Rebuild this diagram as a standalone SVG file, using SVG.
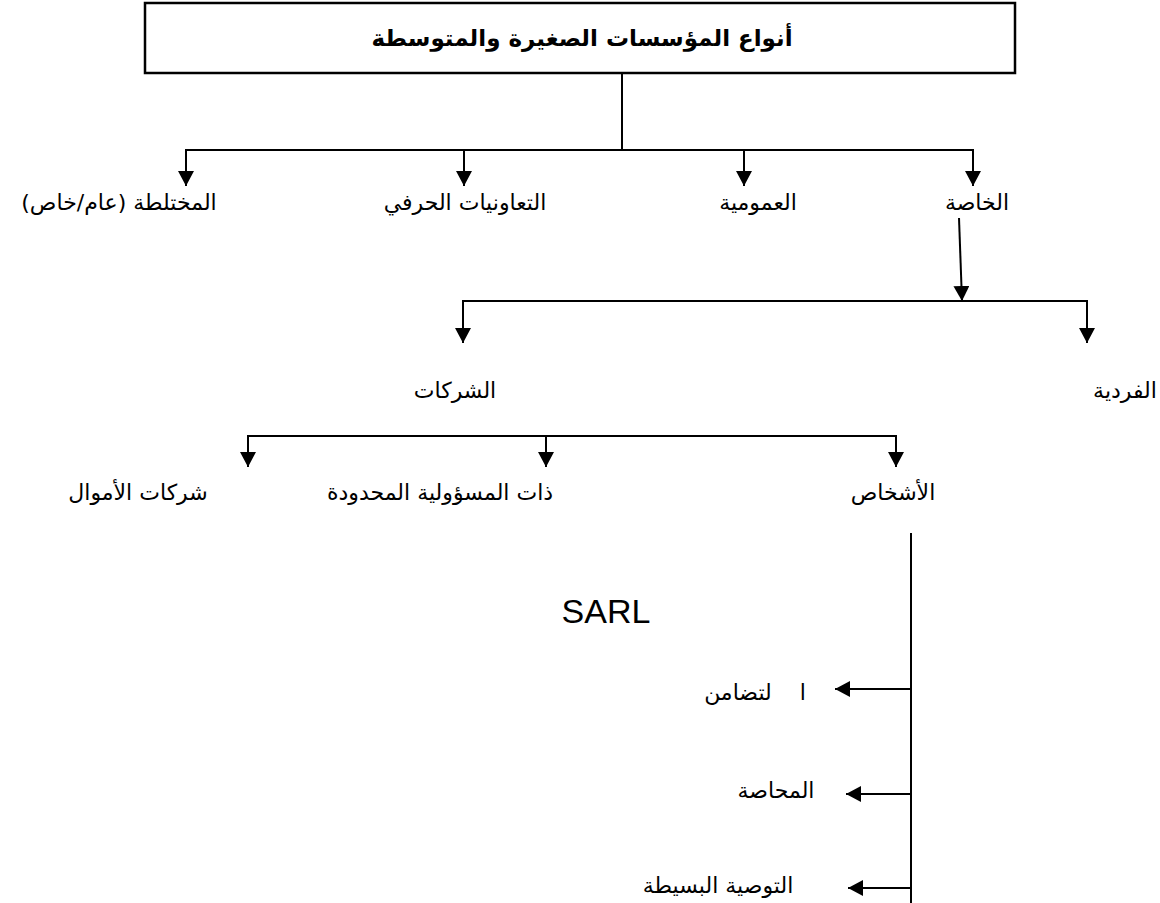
<svg xmlns="http://www.w3.org/2000/svg" width="1160" height="903" viewBox="0 0 1160 903">
<style>
.ar{font-family:"DejaVu Sans",sans-serif;font-size:22px;fill:#000;text-anchor:middle}
.ln{stroke:#000;stroke-width:2;fill:none}
</style>
<defs>
<marker id="ah" markerUnits="userSpaceOnUse" markerWidth="16" markerHeight="16" viewBox="0 0 16 16" refX="15" refY="8" orient="auto">
<path d="M0,0 L15,8 L0,16 Z" fill="#000"/>
</marker>
</defs>
<rect width="1160" height="903" fill="#fff"/>
<g id="connectors">
<line class="ln" x1="622" y1="74" x2="622" y2="150"/>
<polyline class="ln" points="186,150 973,150"/>
<line class="ln" x1="186" y1="149" x2="186" y2="186" marker-end="url(#ah)"/>
<line class="ln" x1="464" y1="150" x2="464" y2="186" marker-end="url(#ah)"/>
<line class="ln" x1="744" y1="150" x2="744" y2="186" marker-end="url(#ah)"/>
<line class="ln" x1="973" y1="149" x2="973" y2="186" marker-end="url(#ah)"/>
<line class="ln" x1="959" y1="218" x2="962" y2="301" marker-end="url(#ah)"/>
<polyline class="ln" points="463,301 1087,301"/>
<line class="ln" x1="463" y1="300" x2="463" y2="343" marker-end="url(#ah)"/>
<line class="ln" x1="1087" y1="300" x2="1087" y2="343" marker-end="url(#ah)"/>
<polyline class="ln" points="248,436 896,436"/>
<line class="ln" x1="248" y1="435" x2="248" y2="467" marker-end="url(#ah)"/>
<line class="ln" x1="546" y1="436" x2="546" y2="467" marker-end="url(#ah)"/>
<line class="ln" x1="896" y1="435" x2="896" y2="467" marker-end="url(#ah)"/>
<line class="ln" x1="911" y1="533" x2="911" y2="903"/>
<line class="ln" x1="910" y1="689" x2="835" y2="689" marker-end="url(#ah)"/>
<line class="ln" x1="910" y1="794" x2="846" y2="794" marker-end="url(#ah)"/>
<line class="ln" x1="910" y1="888" x2="848" y2="888" marker-end="url(#ah)"/>
</g>
<g id="title">
<rect x="145" y="3" width="870" height="70" fill="#fff" stroke="#000" stroke-width="2.5"/>
<text x="582" y="46" class="ar" style="font-weight:bold;font-size:23px">أنواع المؤسسات الصغيرة والمتوسطة</text>
</g>
<g id="n-mixed"><text x="119" y="210" class="ar">المختلطة (عام/خاص)</text></g>
<g id="n-coop"><text x="465" y="210" class="ar">التعاونيات الحرفي</text></g>
<g id="n-public"><text x="758" y="210" class="ar">العمومية</text></g>
<g id="n-private"><text x="977" y="210" class="ar">الخاصة</text></g>
<g id="n-companies"><text x="455" y="398" class="ar">الشركات</text></g>
<g id="n-individual"><text x="1125" y="398" class="ar">الفردية</text></g>
<g id="n-capital"><text x="138" y="500" class="ar">شركات الأموال</text></g>
<g id="n-sarl"><text x="440" y="500" class="ar">ذات المسؤولية المحدودة</text>
<text x="606" y="623" style="font-family:'Liberation Sans',Arial,sans-serif;font-size:34px;text-anchor:middle">SARL</text></g>
<g id="n-persons"><text x="893" y="500" class="ar">الأشخاص</text></g>
<g id="n-solidarity"><text x="755" y="700" class="ar" xml:space="preserve">ا    لتضامن</text></g>
<g id="n-participation"><text x="776" y="798" class="ar">المحاصة</text></g>
<g id="n-simple"><text x="718" y="893" class="ar">التوصية البسيطة</text></g>
</svg>
